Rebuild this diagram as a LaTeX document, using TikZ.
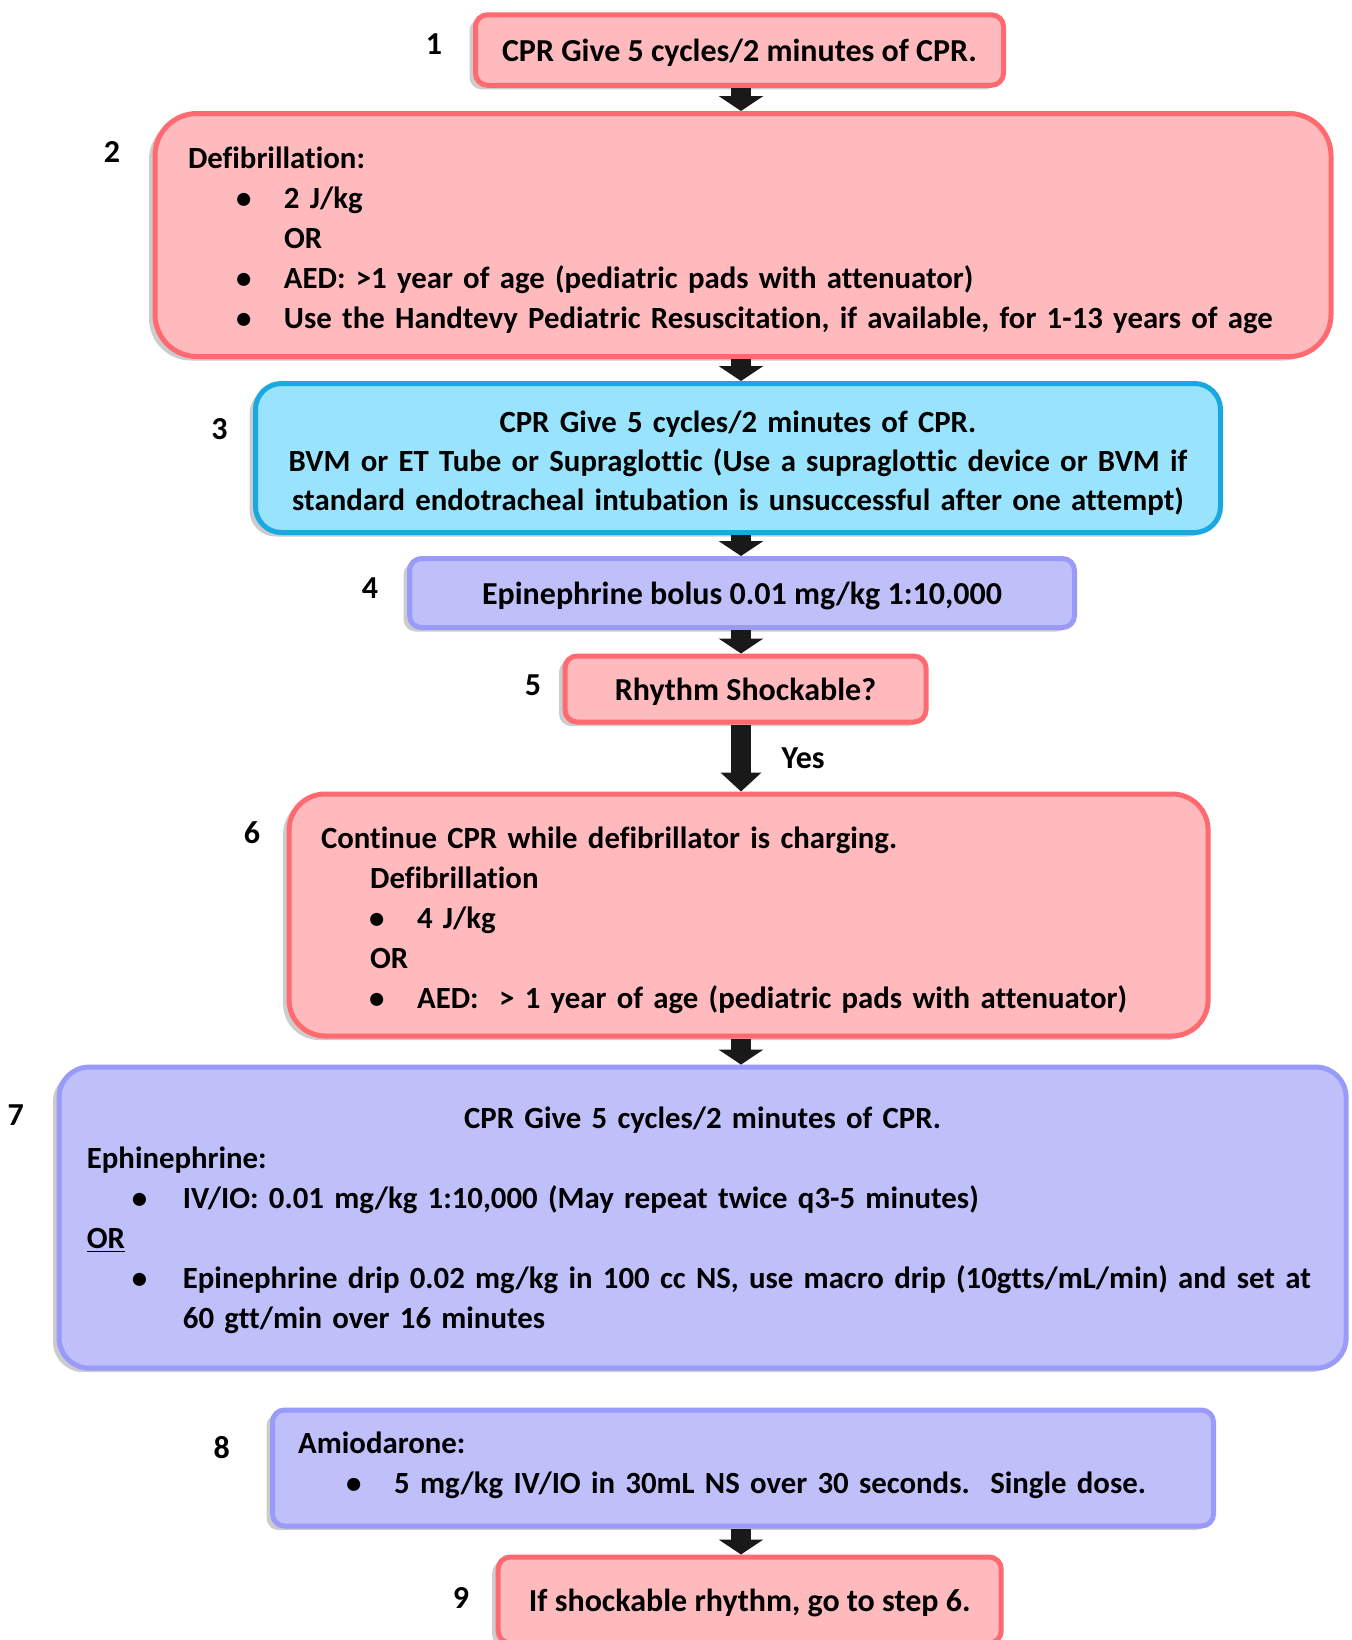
\documentclass[tikz,border=0pt]{standalone}
\usepackage{fontspec}
\setmainfont{Carlito}[Ligatures=NoCommon]
\usetikzlibrary{arrows.meta,positioning,shadows}
\definecolor{cprPink}{HTML}{FFBABE}
\definecolor{cprPinkLine}{HTML}{FF6A70}
\definecolor{cprCyan}{HTML}{99E3FC}
\definecolor{cprCyanLine}{HTML}{19A9E0}
\definecolor{cprLilac}{HTML}{BFBFFA}
\definecolor{cprLilacLine}{HTML}{9A9AFA}
\newcommand{\itm}[1][24pt]{\hspace*{#1}\makebox[\dimexpr48pt-#1\relax][l]{\textbullet}}
\newcommand{\hdstrut}[1][16pt]{\rule{0pt}{#1}}
\newcommand{\ftstrut}{\rule[-5.5pt]{0pt}{0pt}}

\begin{document}
\begin{tikzpicture}[x=0.5pt,y=-0.5pt]
\tikzstyle{card}=[rounded corners=6pt,line width=2.5pt,inner sep=0pt,font=\fontsize{16}{20}\selectfont\bfseries,drop shadow={shadow xshift=-3pt,shadow yshift=-2pt,opacity=.4}]
\tikzstyle{smallcard}=[text height=12pt,text depth=1pt]
\tikzstyle{bigcard}=[font=\fontsize{15.4}{20}\selectfont\bfseries]
\tikzstyle{pinkcard}=[card,draw=cprPinkLine,fill=cprPink]
\tikzstyle{cyancard}=[card,draw=cprCyanLine,fill=cprCyan]
\tikzstyle{lilaccard}=[card,draw=cprLilacLine,fill=cprLilac]
\tikzstyle{num}=[font=\fontsize{16}{20}\selectfont\bfseries]
\tikzstyle{flow}=[-{Triangle[width=22pt,length=7.5pt]},line width=10pt,draw=black!90]
\useasboundingbox (0,0) rectangle (1352,1640);

\node[pinkcard,smallcard,minimum width=264pt,minimum height=35.25pt] (s1) at (739.5,50) {CPR Give 5 cycles/2 minutes of CPR.};
\node[pinkcard,bigcard,rounded corners=21pt,minimum width=588pt,minimum height=121.5pt,text width=555pt,align=left] (s2) at (743,235) {\hdstrut Defibrillation:\\
\itm 2 J/kg\\
\hspace*{48pt}OR\\
\itm AED: >1 year of age (pediatric pads with attenuator)\\
\itm Use the Handtevy Pediatric Resuscitation, if available, for 1-13 years of age};
\node[cyancard,bigcard,rounded corners=13pt,minimum width=482.5pt,minimum height=74.5pt,text width=470pt,align=center,font=\fontsize{15.4}{19.4}\selectfont\bfseries] (s3) at (738,458) {\hdstrut CPR Give 5 cycles/2 minutes of CPR.\\
BVM or ET Tube or Supraglottic (Use a supraglottic device or BVM if\\
standard endotracheal intubation is unsuccessful after one attempt)};
\node[lilaccard,smallcard,minimum width=332.5pt,minimum height=34.5pt] (s4) at (742,593) {Epinephrine bolus 0.01 mg/kg 1:10,000};
\node[pinkcard,smallcard,minimum width=180.5pt,minimum height=33pt] (s5) at (745.5,689) {Rhythm Shockable?};
\node[pinkcard,bigcard,rounded corners=18pt,minimum width=459.5pt,minimum height=121pt,text width=427.5pt,align=left] (s6) at (748.6,915) {\hdstrut Continue CPR while defibrillator is charging.\\
\hspace*{24.5pt}Defibrillation\\
\itm 4 J/kg\\
\hspace*{24.5pt}OR\\
\itm AED:\ \ > 1 year of age (pediatric pads with attenuator)};
\node[lilaccard,bigcard,rounded corners=15pt,minimum width=643.5pt,minimum height=150.5pt,text width=615.7pt,align=left] (s7) at (702.6,1217.6) {\hdstrut[13.4pt]\makebox[\linewidth]{CPR Give 5 cycles/2 minutes of CPR.}\\
Ephinephrine:\\
\itm[22.5pt]IV/IO: 0.01 mg/kg 1:10,000 (May repeat twice q3-5 minutes)\\
\underline{OR}\\
\itm[22.5pt]\mbox{Epinephrine drip 0.02 mg/kg in 100 cc NS, use macro drip (10gtts/mL/min) and set at}\\
\hspace*{48pt}60 gtt/min over 16 minutes};
\node[lilaccard,bigcard,minimum width=470.5pt,minimum height=58pt,text width=444.8pt,align=left] (s8) at (743,1468) {Amiodarone:\\
\itm 5 mg/kg IV/IO in 30mL NS over 30 seconds.\ \ Single dose.\ftstrut};
\node[pinkcard,smallcard,minimum width=251.5pt,minimum height=43pt] (s9) at (749.7,1600) {If shockable rhythm, go to step 6.};

% step numbers
\node[num] (n1) at (434,44) {1};
\node[num] (n2) at (112,152) {2};
\node[num] (n3) at (219.5,429) {3};
\node[num] (n4) at (370,588) {4};
\node[num] (n5) at (533,685) {5};
\node[num] (n6) at (252,833) {6};
\node[num] (n7) at (15.7,1115) {7};
\node[num] (n8) at (221.7,1448) {8};
\node[num] (n9) at (461,1598) {9};

\coordinate (ax) at (741,0);
\foreach \x/\y in {s1/s2,s2/s3,s3/s4,s4/s5,s6/s7,s8/s9}{\draw[flow] (\x.south -| ax) -- (\y.north -| ax);}
\draw[flow,-{Triangle[width=20pt,length=9.5pt]}] (s5.south -| ax) -- (s6.north -| ax) node[num,midway,right=12pt] (yes) {Yes};
\end{tikzpicture}
\end{document}
